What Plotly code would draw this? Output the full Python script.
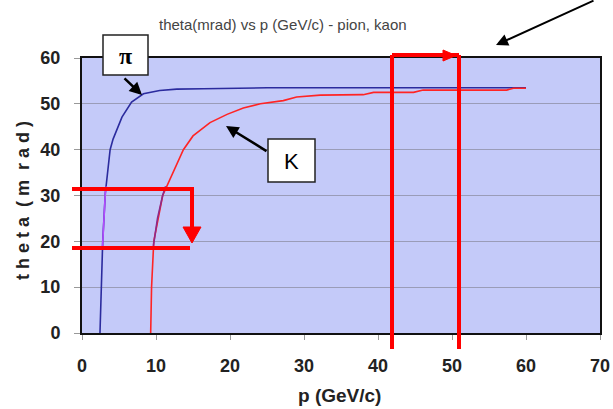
import plotly.graph_objects as go

# Cherenkov angle vs momentum
pion_p = [2.43, 2.5, 2.57, 2.8, 3.15, 3.8, 4.2, 5.4, 6.7, 8.3, 10.5, 12.8, 16.4, 20, 25, 30, 40, 50, 60]
pion_theta = [0, 5, 10, 20, 30.5, 40, 42.3, 47.1, 50.4, 52.2, 52.9, 53.2, 53.3, 53.4, 53.5, 53.5, 53.5, 53.5, 53.5]

kaon_p = [9.28, 9.4, 9.7, 10.9, 13.7, 15.0, 17.3, 19.6, 21.8, 24.1, 27.2, 29, 32.2, 38, 39.4, 44.8, 46.1, 57.4, 58.3, 60]
kaon_theta = [0, 10, 20, 30, 40, 43, 45.9, 47.7, 49.1, 50, 50.7, 51.5, 51.9, 52, 52.5, 52.5, 53, 53, 53.4, 53.4]

# highlighted angle window on each curve
pion_hl_p = [2.78, 2.95, 3.15, 3.3]
pion_hl_theta = [19, 25, 30.5, 32]
kaon_hl_p = [9.65, 10.2, 10.9, 11.3]
kaon_hl_theta = [19, 25, 30, 32]

x_ticks = [0, 10, 20, 30, 40, 50, 60, 70]
y_ticks = [0, 10, 20, 30, 40, 50, 60]

W, H = 613, 409
L, R, T, B = 82, 13, 58, 76
PW, PH = W - L - R, H - T - B


def px(x):
    return (x - L) / PW


def py(y):
    return (H - B - y) / PH


NARROW = "Liberation Sans Narrow, Arial Narrow, Liberation Sans, Arial"

fig = go.Figure()
fig.add_trace(go.Scatter(x=pion_p, y=pion_theta, mode="lines",
                         line=dict(color="#2b2b9e", width=1.6), hoverinfo="skip"))
fig.add_trace(go.Scatter(x=kaon_p, y=kaon_theta, mode="lines",
                         line=dict(color="#ff2424", width=1.6), hoverinfo="skip"))
fig.add_trace(go.Scatter(x=pion_hl_p, y=pion_hl_theta, mode="lines",
                         line=dict(color="#b44cff", width=1.6), hoverinfo="skip"))
fig.add_trace(go.Scatter(x=kaon_hl_p, y=kaon_hl_theta, mode="lines",
                         line=dict(color="#8b2a8b", width=1.6), hoverinfo="skip"))

RED = "#ff0000"
shapes = []


def seg(x0, y0, x1, y1, color=RED, width=4):
    shapes.append(dict(type="line", xref="paper", yref="paper",
                       x0=px(x0), y0=py(y0), x1=px(x1), y1=py(y1),
                       line=dict(color=color, width=width)))


def tri(points, color=RED):
    path = "M " + " L ".join(f"{px(a)},{py(b)}" for a, b in points) + " Z"
    shapes.append(dict(type="path", xref="paper", yref="paper", path=path,
                       fillcolor=color, line=dict(color=color, width=1)))


# left bracket: angle window with downward arrow
seg(72, 189, 194, 189)
seg(192, 189, 192, 229)
tri([(183, 227), (201, 227), (192, 243)])
seg(72, 248, 190, 248)

# right bracket: momentum window with rightward arrow
seg(392, 349, 392, 55)
seg(392, 55, 459, 55)
seg(459, 55, 459, 349)
tri([(443, 50), (443, 61), (456, 55.5)])

# label boxes
for (x0, y0, x1, y1) in [(103, 35, 148, 75), (268, 139, 315, 182)]:
    shapes.append(dict(type="rect", xref="paper", yref="paper",
                       x0=px(x0), y0=py(y0), x1=px(x1), y1=py(y1),
                       fillcolor="white", line=dict(color="#222", width=1.5)))


def label(text, x, y, font, angle=0):
    return dict(text=text, xref="paper", yref="paper", x=px(x), y=py(y),
                xanchor="center", yanchor="middle", textangle=angle,
                showarrow=False, font=font)


def pointer(tip, tail, size=1.0, width=2.5):
    return dict(text="", xref="paper", yref="paper", x=px(tip[0]), y=py(tip[1]),
                ax=tail[0] - tip[0], ay=tail[1] - tip[1], showarrow=True,
                arrowhead=2, arrowsize=size, arrowwidth=width, arrowcolor="black")


annotations = [
    label("theta(mrad) vs p (GeV/c) - pion, kaon", 283, 24,
          dict(family=NARROW, size=15, color="#444")),
    label("<b>p (GeV/c)</b>", 339, 395, dict(family=NARROW, size=19, color="#222")),
    label("<b>t h e t a  ( m  r a d )</b>", 23, 201,
          dict(family="Liberation Sans, Arial", size=18, color="#222"), angle=-90),
    label("<b>π</b>", 125.5, 56,
          dict(family="Liberation Serif, Times New Roman", size=24, color="black")),
    label("K", 291.5, 161, dict(family="Liberation Sans, Arial", size=22, color="black")),
    pointer((142, 95), (123, 77)),
    pointer((226, 126), (268, 152)),
    pointer((496, 45), (595, -5), size=1.2, width=2),
]

fig.update_layout(
    width=W, height=H,
    margin=dict(l=L, r=R, t=T, b=B, pad=0, autoexpand=False),
    paper_bgcolor="white",
    plot_bgcolor="#c4caf9",
    showlegend=False,
    shapes=shapes,
    annotations=annotations,
    xaxis=dict(range=[0, 70], tickvals=x_ticks, ticktext=[f"<b>{v}</b>" for v in x_ticks],
               showgrid=False, zeroline=False, showline=True, linecolor="#111",
               linewidth=2, mirror=True, ticks="outside", ticklen=5, tickcolor="#999",
               automargin=False, ticklabelstandoff=10,
               tickfont=dict(family=NARROW, size=18, color="#222")),
    yaxis=dict(range=[0, 60], tickvals=y_ticks, ticktext=[f"<b>{v}</b>" for v in y_ticks],
               showgrid=True, gridcolor="#9a9cb8", gridwidth=1, zeroline=False,
               showline=True, linecolor="#111", linewidth=2, mirror=True,
               ticks="outside", ticklen=6, tickcolor="#999", automargin=False,
               ticklabelstandoff=10,
               tickfont=dict(family=NARROW, size=18, color="#222")),
)

fig.write_html("out.html")
